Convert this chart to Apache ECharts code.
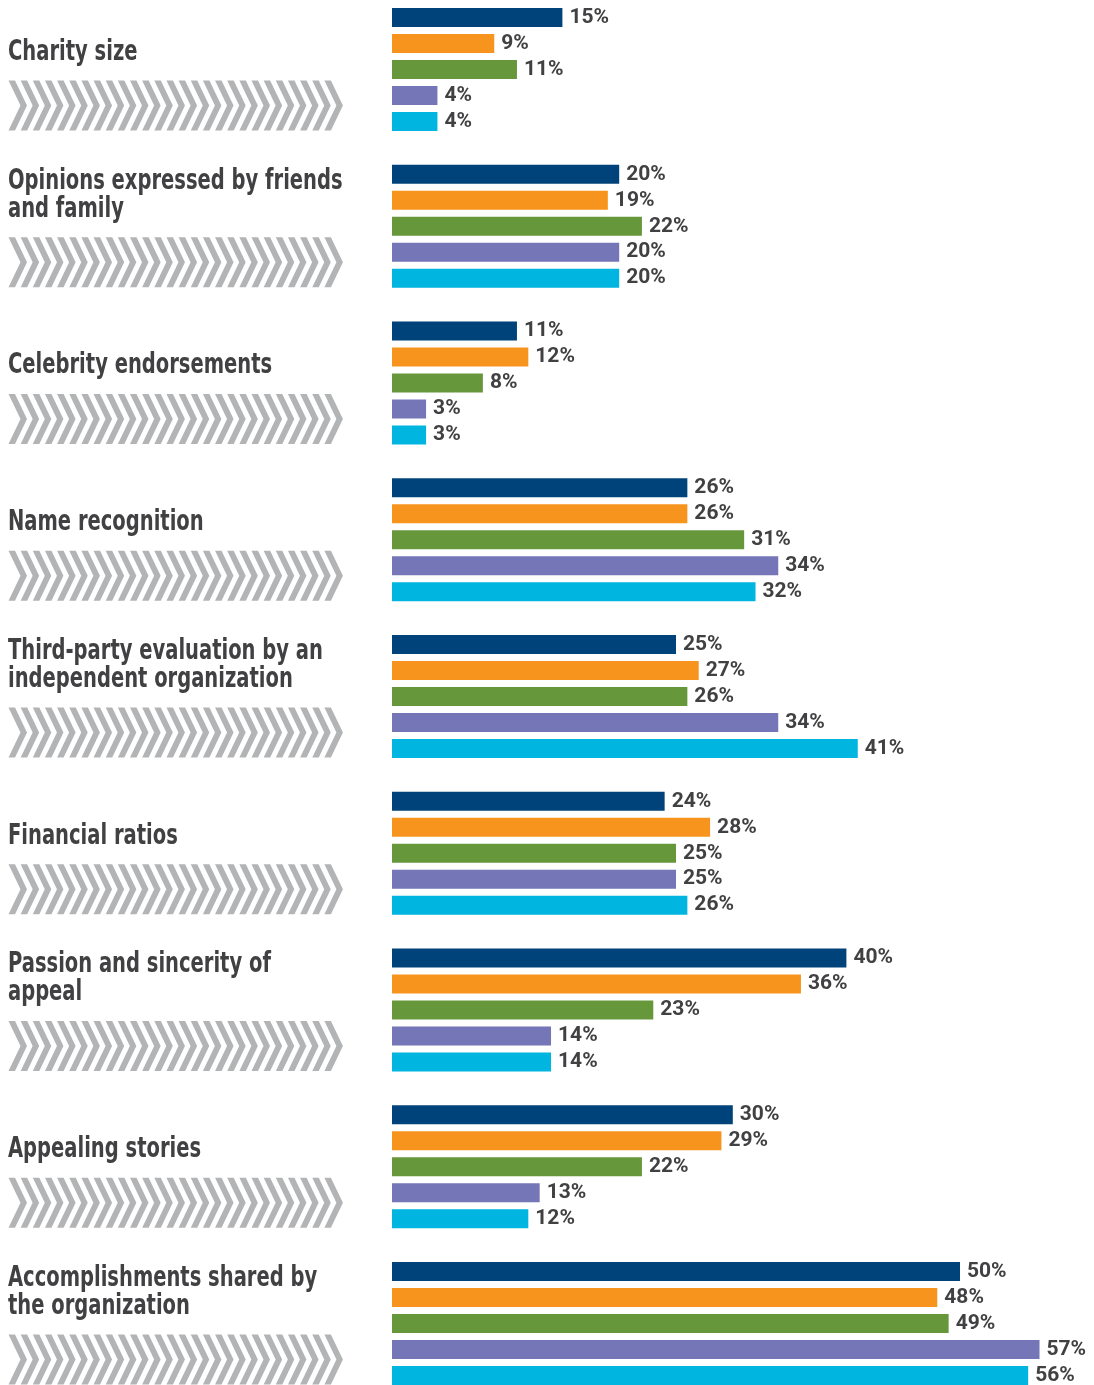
<!DOCTYPE html>
<html>
<head>
<meta charset="utf-8">
<script src="https://cdn.jsdelivr.net/npm/echarts@6/dist/echarts.min.js"></script>
<style>
  html, body { margin: 0; padding: 0; background: #ffffff; }
  #chart { width: 1094px; height: 1385px; }
</style>
</head>
<body>
<div id="chart"></div>
<script>
// Factors, top to bottom
const categories = [
  'Charity size',
  'Opinions expressed by friends\nand family',
  'Celebrity endorsements',
  'Name recognition',
  'Third-party evaluation by an\nindependent organization',
  'Financial ratios',
  'Passion and sincerity of\nappeal',
  'Appealing stories',
  'Accomplishments shared by\nthe organization'
];

// Share of respondents (%) for each of the five groups
const groupA = [15, 20, 11, 26, 25, 24, 40, 30, 50];
const groupB = [9, 19, 12, 26, 27, 28, 36, 29, 48];
const groupC = [11, 22, 8, 31, 26, 25, 23, 22, 49];
const groupD = [4, 20, 3, 34, 34, 25, 14, 13, 57];
const groupE = [4, 20, 3, 32, 41, 26, 14, 12, 56];

const groupNames = ['Group A', 'Group B', 'Group C', 'Group D', 'Group E'];
const groupColors = ['#00437a', '#f7941e', '#67973b', '#7476b8', '#00b5e0'];
const groupValues = [groupA, groupB, groupC, groupD, groupE];

const TITLE_FONT = '"DejaVu Sans Condensed", "DejaVu Sans", sans-serif';
const VALUE_FONT = 'Roboto, "DejaVu Sans Condensed", sans-serif';
const TEXT_COLOR = '#414042';
const CHEVRON_COLOR = '#b3b4b6';

const chart = echarts.init(document.getElementById('chart'), null, { renderer: 'canvas' });

chart.setOption({
  animation: false,
  backgroundColor: '#ffffff',
  grid: {
    left: 392,
    width: 681.6,
    top: 69.5,
    height: 1254
  },
  xAxis: {
    type: 'value',
    min: 0,
    max: 60,
    show: false
  },
  yAxis: {
    type: 'category',
    data: categories,
    inverse: true,
    boundaryGap: false,
    show: false
  },
  series: groupValues.map((vals, i) => ({
    name: groupNames[i],
    type: 'bar',
    data: vals,
    barWidth: 19,
    barGap: '36.8%',
    itemStyle: { color: groupColors[i] },
    label: {
      show: true,
      position: 'right',
      distance: 7,
      formatter: '{c}%',
      fontFamily: VALUE_FONT,
      fontWeight: 'bold',
      fontSize: 21,
      color: TEXT_COLOR
    }
  }))
});

// Chevron strip drawn under each title
function chevronRow(yTop) {
  const h = 50, w = 6.5, d = 12, pitch = 12.15, count = 27, x0 = 8.5;
  const shapes = [];
  for (let k = 0; k < count; k++) {
    const x = x0 + k * pitch;
    shapes.push({
      type: 'polygon',
      silent: true,
      shape: {
        points: [
          [x, yTop], [x + w, yTop], [x + w + d, yTop + h / 2],
          [x + w, yTop + h], [x, yTop + h], [x + d, yTop + h / 2]
        ]
      },
      style: { fill: CHEVRON_COLOR }
    });
  }
  return shapes;
}

// Titles and chevrons placed from the category axis positions
const graphics = [];
categories.forEach((cat, i) => {
  const yc = chart.convertToPixel({ yAxisIndex: 0 }, i);
  graphics.push({
    type: 'text',
    silent: true,
    x: 8,
    y: yc - 3,
    scaleX: 0.775,
    style: {
      text: cat,
      fontFamily: TITLE_FONT,
      fontWeight: 'bold',
      fontSize: 28,
      lineHeight: 28,
      fill: TEXT_COLOR,
      align: 'left',
      verticalAlign: 'bottom'
    }
  });
  graphics.push(...chevronRow(yc + 11));
});

chart.setOption({ graphic: graphics });
</script>
</body>
</html>
